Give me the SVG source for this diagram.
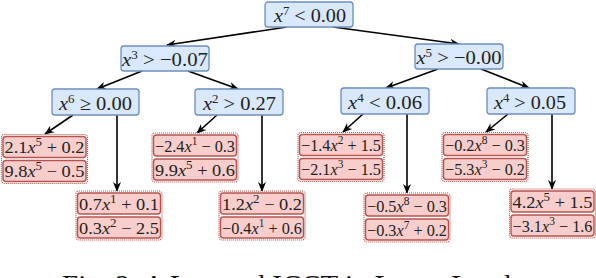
<svg xmlns="http://www.w3.org/2000/svg" width="596" height="278" viewBox="0 0 596 278" font-family="Liberation Serif, serif">
<style>
.n{fill:#dae8fc;stroke:#6c8ebf;stroke-width:1.3}
.o{fill:#fff;stroke:#b85450;stroke-width:1.2;stroke-dasharray:1 1}
.r{fill:#f8cecc;stroke:#b85450;stroke-width:1.4}
.t{font-size:19px;fill:#222;text-anchor:middle}
.lt{font-size:17px;fill:#222;text-anchor:middle}
.v{font-style:italic}
.s{font-size:12px}
.e{fill:none;stroke:#000;stroke-width:1.6}
.cap{font-size:29px;fill:#111}
</style>
<defs>
<marker id="a" viewBox="0 0 10 10" refX="9" refY="5" markerWidth="10" markerHeight="10" markerUnits="userSpaceOnUse" orient="auto">
<path d="M0,1 L10,5 L0,9 L3,5 z" fill="#000"/>
</marker>
</defs>
<g id="connectors">
<line class="e" x1="287" y1="27" x2="167" y2="45" marker-end="url(#a)"/>
<line class="e" x1="333" y1="27" x2="459" y2="44" marker-end="url(#a)"/>
<line class="e" x1="142" y1="71" x2="97" y2="89" marker-end="url(#a)"/>
<line class="e" x1="188" y1="71" x2="238" y2="89" marker-end="url(#a)"/>
<line class="e" x1="438" y1="69" x2="386" y2="88" marker-end="url(#a)"/>
<line class="e" x1="481" y1="69" x2="529" y2="88" marker-end="url(#a)"/>
<line class="e" x1="73" y1="115" x2="45" y2="134" marker-end="url(#a)"/>
<line class="e" x1="117" y1="115" x2="117" y2="191" marker-end="url(#a)"/>
<line class="e" x1="217" y1="115" x2="197" y2="133" marker-end="url(#a)"/>
<line class="e" x1="262" y1="115" x2="262" y2="191" marker-end="url(#a)"/>
<line class="e" x1="363" y1="114" x2="343" y2="132" marker-end="url(#a)"/>
<line class="e" x1="407" y1="114" x2="407" y2="193" marker-end="url(#a)"/>
<line class="e" x1="508" y1="114" x2="486" y2="132" marker-end="url(#a)"/>
<line class="e" x1="552" y1="114" x2="552" y2="189" marker-end="url(#a)"/>
</g>
<g id="root">
<rect class="n" x="265" y="2" width="88" height="25" rx="3"/>
<text class="t" x="310" y="21.5" textLength="72" lengthAdjust="spacingAndGlyphs"><tspan class="v">x</tspan><tspan class="s" dy="-7">7</tspan><tspan dy="7"> &lt; 0.00</tspan></text>
</g>
<g id="n-x3">
<rect class="n" x="121" y="46" width="88" height="25" rx="3"/>
<text class="t" x="165" y="65.5" textLength="86" lengthAdjust="spacingAndGlyphs"><tspan class="v">x</tspan><tspan class="s" dy="-7">3</tspan><tspan dy="7"> &gt; −0.07</tspan></text>
</g>
<g id="n-x5">
<rect class="n" x="415" y="44" width="88" height="25" rx="3"/>
<text class="t" x="459" y="63.5" textLength="85" lengthAdjust="spacingAndGlyphs"><tspan class="v">x</tspan><tspan class="s" dy="-7">5</tspan><tspan dy="7"> &gt; −0.00</tspan></text>
</g>
<g id="n-x6">
<rect class="n" x="52" y="89" width="87" height="26" rx="3"/>
<text class="t" x="95.5" y="109.5" textLength="73" lengthAdjust="spacingAndGlyphs"><tspan class="v">x</tspan><tspan class="s" dy="-7">6</tspan><tspan dy="7"> ≥ 0.00</tspan></text>
</g>
<g id="n-x2">
<rect class="n" x="195" y="89" width="88" height="26" rx="3"/>
<text class="t" x="239.5" y="109.5" textLength="73" lengthAdjust="spacingAndGlyphs"><tspan class="v">x</tspan><tspan class="s" dy="-7">2</tspan><tspan dy="7"> &gt; 0.27</tspan></text>
</g>
<g id="n-x4a">
<rect class="n" x="341" y="88" width="88" height="26" rx="3"/>
<text class="t" x="385" y="108.5" textLength="74" lengthAdjust="spacingAndGlyphs"><tspan class="v">x</tspan><tspan class="s" dy="-7">4</tspan><tspan dy="7"> &lt; 0.06</tspan></text>
</g>
<g id="n-x4b">
<rect class="n" x="487" y="88" width="88" height="26" rx="3"/>
<text class="t" x="530" y="108.5" textLength="72" lengthAdjust="spacingAndGlyphs"><tspan class="v">x</tspan><tspan class="s" dy="-7">4</tspan><tspan dy="7"> &gt; 0.05</tspan></text>
</g>
<g id="leaf1" transform="translate(1.5,134.5)">
<rect class="o" x="0" y="0" width="86" height="49" rx="3"/>
<rect class="r" x="1.5" y="2" width="83" height="21" rx="3"/>
<rect class="r" x="1.5" y="26" width="83" height="21" rx="3"/>
<text class="lt" x="43" y="18.5" textLength="80" lengthAdjust="spacingAndGlyphs">2.1<tspan class="v">x</tspan><tspan class="s" dy="-7">5</tspan><tspan dy="7"> + 0.2</tspan></text>
<text class="lt" x="43" y="42.5" textLength="80" lengthAdjust="spacingAndGlyphs">9.8<tspan class="v">x</tspan><tspan class="s" dy="-7">5</tspan><tspan dy="7"> − 0.5</tspan></text>
</g>
<g id="leaf2" transform="translate(76,191)">
<rect class="o" x="0" y="0" width="86" height="49" rx="3"/>
<rect class="r" x="1.5" y="2" width="83" height="21" rx="3"/>
<rect class="r" x="1.5" y="26" width="83" height="21" rx="3"/>
<text class="lt" x="43" y="18.5" textLength="80" lengthAdjust="spacingAndGlyphs">0.7<tspan class="v">x</tspan><tspan class="s" dy="-7">1</tspan><tspan dy="7"> + 0.1</tspan></text>
<text class="lt" x="43" y="42.5" textLength="80" lengthAdjust="spacingAndGlyphs">0.3<tspan class="v">x</tspan><tspan class="s" dy="-7">2</tspan><tspan dy="7"> − 2.5</tspan></text>
</g>
<g id="leaf3" transform="translate(152,133)">
<rect class="o" x="0" y="0" width="86" height="49" rx="3"/>
<rect class="r" x="1.5" y="2" width="83" height="21" rx="3"/>
<rect class="r" x="1.5" y="26" width="83" height="21" rx="3"/>
<text class="lt" x="43" y="18.5" textLength="80" lengthAdjust="spacingAndGlyphs">−2.4<tspan class="v">x</tspan><tspan class="s" dy="-7">1</tspan><tspan dy="7"> − 0.3</tspan></text>
<text class="lt" x="43" y="42.5" textLength="80" lengthAdjust="spacingAndGlyphs">9.9<tspan class="v">x</tspan><tspan class="s" dy="-7">5</tspan><tspan dy="7"> + 0.6</tspan></text>
</g>
<g id="leaf4" transform="translate(219,191)">
<rect class="o" x="0" y="0" width="86" height="49" rx="3"/>
<rect class="r" x="1.5" y="2" width="83" height="21" rx="3"/>
<rect class="r" x="1.5" y="26" width="83" height="21" rx="3"/>
<text class="lt" x="43" y="18.5" textLength="80" lengthAdjust="spacingAndGlyphs">1.2<tspan class="v">x</tspan><tspan class="s" dy="-7">2</tspan><tspan dy="7"> − 0.2</tspan></text>
<text class="lt" x="43" y="42.5" textLength="80" lengthAdjust="spacingAndGlyphs">−0.4<tspan class="v">x</tspan><tspan class="s" dy="-7">1</tspan><tspan dy="7"> + 0.6</tspan></text>
</g>
<g id="leaf5" transform="translate(298,132.5)">
<rect class="o" x="0" y="0" width="86" height="49" rx="3"/>
<rect class="r" x="1.5" y="2" width="83" height="21" rx="3"/>
<rect class="r" x="1.5" y="26" width="83" height="21" rx="3"/>
<text class="lt" x="43" y="18.5" textLength="80" lengthAdjust="spacingAndGlyphs">−1.4<tspan class="v">x</tspan><tspan class="s" dy="-7">2</tspan><tspan dy="7"> + 1.5</tspan></text>
<text class="lt" x="43" y="42.5" textLength="80" lengthAdjust="spacingAndGlyphs">−2.1<tspan class="v">x</tspan><tspan class="s" dy="-7">3</tspan><tspan dy="7"> − 1.5</tspan></text>
</g>
<g id="leaf6" transform="translate(364,193)">
<rect class="o" x="0" y="0" width="86" height="49" rx="3"/>
<rect class="r" x="1.5" y="2" width="83" height="21" rx="3"/>
<rect class="r" x="1.5" y="26" width="83" height="21" rx="3"/>
<text class="lt" x="43" y="18.5" textLength="80" lengthAdjust="spacingAndGlyphs">−0.5<tspan class="v">x</tspan><tspan class="s" dy="-7">8</tspan><tspan dy="7"> − 0.3</tspan></text>
<text class="lt" x="43" y="42.5" textLength="80" lengthAdjust="spacingAndGlyphs">−0.3<tspan class="v">x</tspan><tspan class="s" dy="-7">7</tspan><tspan dy="7"> + 0.2</tspan></text>
</g>
<g id="leaf7" transform="translate(442,132.5)">
<rect class="o" x="0" y="0" width="86" height="49" rx="3"/>
<rect class="r" x="1.5" y="2" width="83" height="21" rx="3"/>
<rect class="r" x="1.5" y="26" width="83" height="21" rx="3"/>
<text class="lt" x="43" y="18.5" textLength="80" lengthAdjust="spacingAndGlyphs">−0.2<tspan class="v">x</tspan><tspan class="s" dy="-7">8</tspan><tspan dy="7"> − 0.3</tspan></text>
<text class="lt" x="43" y="42.5" textLength="80" lengthAdjust="spacingAndGlyphs">−5.3<tspan class="v">x</tspan><tspan class="s" dy="-7">3</tspan><tspan dy="7"> − 0.2</tspan></text>
</g>
<g id="leaf8" transform="translate(509.5,189)">
<rect class="o" x="0" y="0" width="86" height="49" rx="3"/>
<rect class="r" x="1.5" y="2" width="83" height="21" rx="3"/>
<rect class="r" x="1.5" y="26" width="83" height="21" rx="3"/>
<text class="lt" x="43" y="18.5" textLength="80" lengthAdjust="spacingAndGlyphs">4.2<tspan class="v">x</tspan><tspan class="s" dy="-7">5</tspan><tspan dy="7"> + 1.5</tspan></text>
<text class="lt" x="43" y="42.5" textLength="80" lengthAdjust="spacingAndGlyphs">−3.1<tspan class="v">x</tspan><tspan class="s" dy="-7">3</tspan><tspan dy="7"> − 1.6</tspan></text>
</g>
<text class="cap" x="62" y="295">Fig. 2: A Learned ICCT in Lunar Lander</text>
</svg>
